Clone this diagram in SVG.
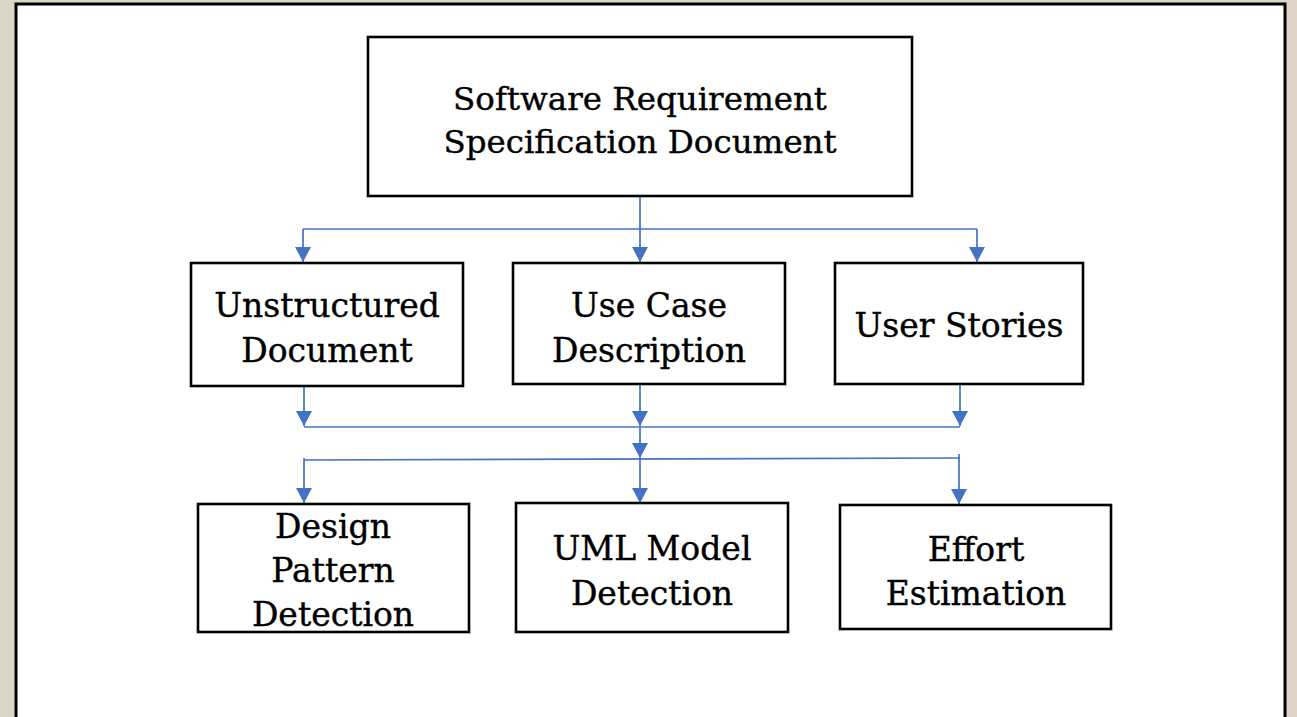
<svg xmlns="http://www.w3.org/2000/svg" width="1297" height="717" viewBox="0 0 1297 717">
  <defs>
    <style>
      .panel { fill: #ffffff; stroke: #000000; stroke-width: 3; }
      .box { fill: #ffffff; stroke: #000000; stroke-width: 2.6; }
      .lbl { font-family: "DejaVu Serif", "Liberation Serif", serif; font-size: 33px; fill: #000000; stroke: #000000; stroke-width: 0.4; text-anchor: middle; }
      .top { font-size: 32.5px; }
      .conn { fill: none; stroke: #4472C4; stroke-width: 1.7; }
    </style>
    <marker id="arrow" viewBox="0 0 15 16" refX="15" refY="8" markerWidth="15" markerHeight="16" markerUnits="userSpaceOnUse" orient="auto">
      <path d="M0,0 L15,8 L0,16 Z" fill="#4472C4"/>
    </marker>
  </defs>
  <rect x="0" y="0" width="1297" height="717" fill="#ddd6c8"/>
  <rect class="panel" x="16" y="4" width="1269" height="730"/>

  <g id="connectors">
    <polyline class="conn" points="640,197 640,229"/>
    <polyline class="conn" points="303,229 977,229"/>
    <line class="conn" x1="303" y1="229" x2="303" y2="262" marker-end="url(#arrow)"/>
    <line class="conn" x1="640" y1="229" x2="640" y2="262" marker-end="url(#arrow)"/>
    <line class="conn" x1="977" y1="229" x2="977" y2="262" marker-end="url(#arrow)"/>
    <line class="conn" x1="304" y1="386" x2="304" y2="426" marker-end="url(#arrow)"/>
    <line class="conn" x1="640" y1="384" x2="640" y2="426" marker-end="url(#arrow)"/>
    <line class="conn" x1="960" y1="384" x2="960" y2="426" marker-end="url(#arrow)"/>
    <line class="conn" x1="304" y1="427" x2="960" y2="427"/>
    <line class="conn" x1="640" y1="427" x2="640" y2="458" marker-end="url(#arrow)"/>
    <line class="conn" x1="304" y1="460" x2="960" y2="458"/>
    <line class="conn" x1="304" y1="458" x2="304" y2="503" marker-end="url(#arrow)"/>
    <line class="conn" x1="640" y1="458" x2="640" y2="503" marker-end="url(#arrow)"/>
    <line class="conn" x1="959" y1="454" x2="959" y2="504" marker-end="url(#arrow)"/>
  </g>

  <g id="srs">
    <rect class="box" x="368" y="37" width="544" height="159"/>
    <text class="lbl top" x="640" y="110">Software Requirement</text>
    <text class="lbl top" x="640" y="153">Specification Document</text>
  </g>
  <g id="unstructured">
    <rect class="box" x="191" y="263" width="272" height="123"/>
    <text class="lbl" x="327" y="317">Unstructured</text>
    <text class="lbl" x="327" y="362">Document</text>
  </g>
  <g id="usecase">
    <rect class="box" x="513" y="263" width="272" height="121"/>
    <text class="lbl" x="649" y="317">Use Case</text>
    <text class="lbl" x="649" y="362">Description</text>
  </g>
  <g id="userstories">
    <rect class="box" x="835" y="263" width="248" height="121"/>
    <text class="lbl" x="959" y="337">User Stories</text>
  </g>
  <g id="designpattern">
    <rect class="box" x="198" y="504" width="271" height="128"/>
    <text class="lbl" x="333" y="538">Design</text>
    <text class="lbl" x="333" y="582">Pattern</text>
    <text class="lbl" x="333" y="626">Detection</text>
  </g>
  <g id="uml">
    <rect class="box" x="516" y="503" width="272" height="129"/>
    <text class="lbl" x="652" y="560">UML Model</text>
    <text class="lbl" x="652" y="605">Detection</text>
  </g>
  <g id="effort">
    <rect class="box" x="840" y="505" width="271" height="124"/>
    <text class="lbl" x="976" y="561">Effort</text>
    <text class="lbl" x="976" y="605">Estimation</text>
  </g>
</svg>
